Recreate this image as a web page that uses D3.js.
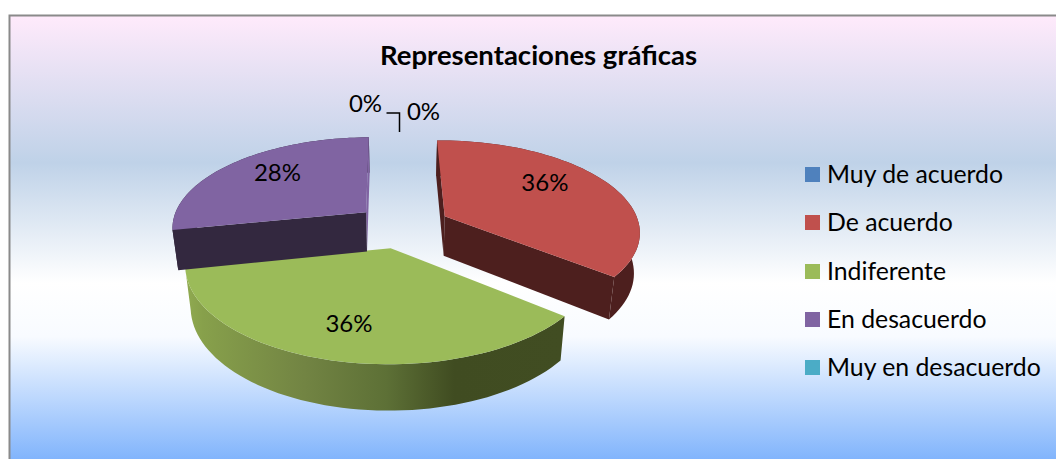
<!DOCTYPE html>
<html>
<head>
<meta charset="utf-8">
<script src="https://cdn.jsdelivr.net/npm/d3@7"></script>
<style>
  html, body { margin: 0; padding: 0; background: #fff; overflow: hidden; }
  text { font-family: Lato, "Open Sans", sans-serif; fill: #000; }
</style>
</head>
<body>
<div id="chart"></div>
<script>
// Values
var categories = ["Muy de acuerdo", "De acuerdo", "Indiferente", "En desacuerdo", "Muy en desacuerdo"];
var values = [0, 36, 36, 28, 0];
var colors = ["#4f81bd", "#c0504d", "#9bbb59", "#8064a2", "#4bacc6"];
var wallColors = ["#263f5c", "#4d1f1e", "#414d22", "#33283f", "#24545f"];
var title = "Representaciones gráficas";

var svgWidth = 1056;
var svgHeight = 459;

var svg = d3.select("#chart")
  .append("svg")
  .attr("width", svgWidth)
  .attr("height", svgHeight)
  .style("display", "block");

var defs = svg.append("defs");

// Chart area background
var bg = defs.append("linearGradient")
  .attr("id", "bg")
  .attr("x1", 0).attr("y1", 0).attr("x2", 0).attr("y2", 1);
[[0, "#ffeafb"], [0.33, "#bfd2e8"], [0.6, "#ffffff"], [0.72, "#f8fbff"], [1, "#7fb3fc"]].forEach(function(s) {
  bg.append("stop").attr("offset", s[0]).attr("stop-color", s[1]);
});

// the frame runs past the right and bottom of the picture
svg.append("rect")
  .attr("x", 9.5).attr("y", 15.5)
  .attr("width", 1100).attr("height", 446)
  .attr("fill", "url(#bg)")
  .attr("stroke", "#8a8a8a")
  .attr("stroke-width", 2);

svg.append("text")
  .attr("x", 538.5).attr("y", 65)
  .attr("text-anchor", "middle")
  .attr("font-size", 27.5)
  .attr("font-weight", 700)
  .text(title);

// Tilted pie: disc coordinates are thrown through a small perspective
var centerX = 402.4, centerY = 225.8;
var radiusX = 195, radiusY = 90.4;
var persp = 0.155, explode = 0.245;
var firstAngle = -0.7 * Math.PI / 180;

function project(u, v, low) {
  var s = 1 / (1 + persp * v);
  var x = radiusX * u * s;
  var y = -radiusY * v * s;
  if (low) {
    x = x * 0.975;
    y = y + 40 / (1 + 0.11 * v);
  }
  return [centerX + x, centerY + y];
}

var pie = d3.pie()
  .sort(null)
  .startAngle(firstAngle)
  .endAngle(firstAngle + 2 * Math.PI)
  .value(function(d) { return d; });
var slices = pie(values);

var line = d3.line();

function offsetOf(d) {
  var mid = (d.startAngle + d.endAngle) / 2;
  return [explode * Math.sin(mid), explode * Math.cos(mid)];
}

function rimPoint(d, a, r, low) {
  var o = offsetOf(d);
  return project(o[0] + r * Math.sin(a), o[1] + r * Math.cos(a), low);
}

function rim(d, low) {
  return d3.range(0, 61).map(function(i) {
    return rimPoint(d, d.startAngle + (d.endAngle - d.startAngle) * i / 60, 1, low);
  });
}

// Side wall of the green slice is shaded from left to right
var wallGrad = defs.append("linearGradient")
  .attr("id", "wallGreen")
  .attr("gradientUnits", "userSpaceOnUse")
  .attr("x1", 188).attr("y1", 0).attr("x2", 563).attr("y2", 0);
[[0, "#8fa950"], [0.04, "#87a04b"], [0.31, "#728443"], [0.53, "#5d7036"], [0.71, "#404c21"], [1, "#414d22"]].forEach(function(s) {
  wallGrad.append("stop").attr("offset", s[0]).attr("stop-color", s[1]);
});

var pieGroup = svg.append("g");

// green first, the exploded purple and red pieces sit over it
[2, 3, 1].forEach(function(i) {
  var d = slices[i];
  var g = pieGroup.append("g");
  var wall = i === 2 ? "url(#wallGreen)" : wallColors[i];
  var apexTop = rimPoint(d, 0, 0, false);
  var apexLow = rimPoint(d, 0, 0, true);
  var rimTop = rim(d, false);
  var rimLow = rim(d, true);

  // outer wall
  g.append("path")
    .attr("d", line(rimTop.concat(rimLow.slice().reverse())) + "Z")
    .attr("fill", wall);
  // radial walls, the sliver at the back of the purple piece stays light
  if (i !== 2) {
    g.append("path")
      .attr("d", line([apexTop, rimTop[60], rimLow[60], apexLow]) + "Z")
      .attr("fill", i === 3 ? colors[3] : wall);
    g.append("path")
      .attr("d", line([apexTop, rimTop[0], rimLow[0], apexLow]) + "Z")
      .attr("fill", wall);
  }
  // top face
  g.append("path")
    .attr("d", line([apexTop].concat(rimTop)) + "Z")
    .attr("fill", colors[i]);
});

// Data labels, placed on the disc: turn from the slice middle and distance from its tip
var labelTurn = [6.65, -9.3, 0.7, 4.7, -8.5];
var labelRadius = [1.326, 0.695, 0.71, 0.71, 1.477];

var labelPos = slices.map(function(d, i) {
  var mid = (d.startAngle + d.endAngle) / 2;
  return rimPoint(d, mid + labelTurn[i] * Math.PI / 180, labelRadius[i], false);
});

svg.append("g").selectAll("text")
  .data(values)
  .enter()
  .append("text")
  .attr("x", function(d, i) { return labelPos[i][0]; })
  .attr("y", function(d, i) { return labelPos[i][1] + 8; })
  .attr("text-anchor", "middle")
  .attr("font-size", 24)
  .text(function(d) { return d + "%"; });

// leader line between the two 0% labels
var leaderX = labelPos[0][0] - 24;
var leaderY = labelPos[0][1] + 1;
svg.append("path")
  .attr("d", line([[leaderX - 13, leaderY], [leaderX, leaderY], [leaderX, leaderY + 19]]))
  .attr("fill", "none")
  .attr("stroke", "#000")
  .attr("stroke-width", 1.5);

// Legend
var legendY = d3.scalePoint()
  .domain(categories)
  .range([174.5, 367.5]);

var legend = svg.append("g").selectAll("g")
  .data(categories)
  .enter()
  .append("g")
  .attr("transform", function(d) { return "translate(805," + Math.round(legendY(d) - 7.5) + ")"; });

legend.append("rect")
  .attr("width", 15).attr("height", 15)
  .attr("fill", function(d, i) { return colors[i]; });

legend.append("text")
  .attr("x", 22).attr("y", 16)
  .attr("font-size", 24.8)
  .text(function(d) { return d; });
</script>
</body>
</html>
